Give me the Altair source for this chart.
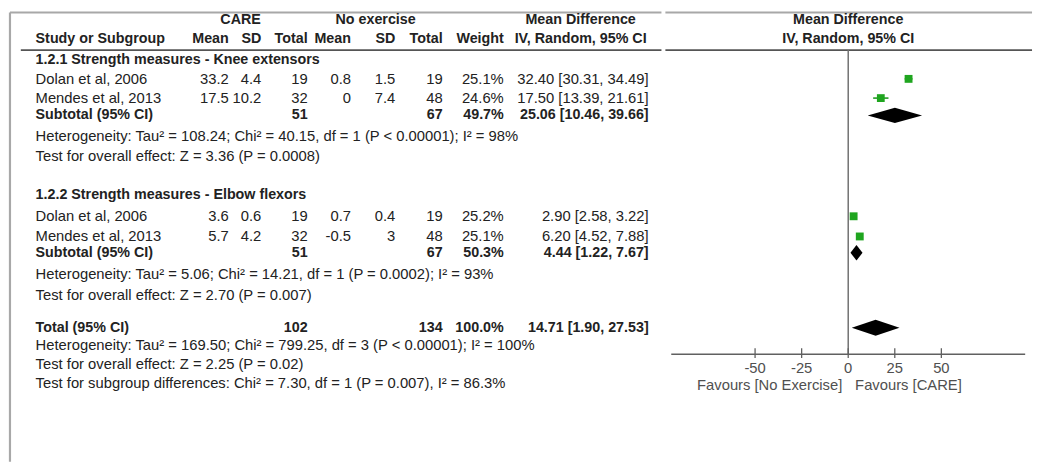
import altair as alt
import pandas as pd

# ---------------- data ----------------
groups = ["1.2.1 Strength measures - Knee extensors",
          "1.2.2 Strength measures - Elbow flexors"]
studies = ["Dolan et al, 2006", "Mendes et al, 2013",
           "Dolan et al, 2006", "Mendes et al, 2013"]
study_group = [0, 0, 1, 1]
care_mean = [33.2, 17.5, 3.6, 5.7]
care_sd = [4.4, 10.2, 0.6, 4.2]
care_total = [19, 32, 19, 32]
noex_mean = [0.8, 0, 0.7, -0.5]
noex_sd = [1.5, 7.4, 0.4, 3]
noex_total = [19, 48, 19, 48]
weights = [25.1, 24.6, 25.2, 25.1]
md = [32.40, 17.50, 2.90, 6.20]
md_lo = [30.31, 13.39, 2.58, 4.52]
md_hi = [34.49, 21.61, 3.22, 7.88]

sub_care_total = [51, 51]
sub_noex_total = [67, 67]
sub_weight = [49.7, 50.3]
sub_md = [25.06, 4.44]
sub_lo = [10.46, 1.22]
sub_hi = [39.66, 7.67]
sub_het = ["Heterogeneity: Tau² = 108.24; Chi² = 40.15, df = 1 (P < 0.00001); I² = 98%",
           "Heterogeneity: Tau² = 5.06; Chi² = 14.21, df = 1 (P = 0.0002); I² = 93%"]
sub_test = ["Test for overall effect: Z = 3.36 (P = 0.0008)",
            "Test for overall effect: Z = 2.70 (P = 0.007)"]

total_care = 102
total_noex = 134
total_weight = 100.0
total_md, total_lo, total_hi = 14.71, 1.90, 27.53
total_notes = ["Heterogeneity: Tau² = 169.50; Chi² = 799.25, df = 3 (P < 0.00001); I² = 100%",
               "Test for overall effect: Z = 2.25 (P = 0.02)",
               "Test for subgroup differences: Chi² = 7.30, df = 1 (P = 0.007), I² = 86.3%"]

axis_ticks = [-50, -25, 0, 25, 50]
favours = ["Favours [No Exercise]", "Favours [CARE]"]

# ---------------- layout ----------------
FONT = "Liberation Sans"
FS = 15
FSB = 14.5
TXT = "#222222"
LEFT_W, RIGHT_W, H = 662, 372, 457
ROW_STEP = 19.5
ROW0_PX = 51  # panel px of row 0
Y_TOP = -ROW0_PX / ROW_STEP
Y_BOT = (H - ROW0_PX) / ROW_STEP
yscale = alt.Scale(domain=[Y_BOT, Y_TOP], nice=False, zero=False)
lx = alt.Scale(domain=[8, 8 + LEFT_W], nice=False, zero=False)
PX_PER_UNIT = 1.89
MD_L = -(848.5 - 670 + 7) / PX_PER_UNIT
MD_R = MD_L + RIGHT_W / PX_PER_UNIT
rx = alt.Scale(domain=[MD_L, MD_R], nice=False, zero=False)

HDR1, HDR2, HLINE = -2.15, -1.17, -0.6
AXIS_ROW, TICKLAB_ROW, FAV_ROW = 15.23, 15.95, 16.82
AXIS_HALF = 95
# vertical position (in row units) of each line of the table
ROWPOS = {
    "g0": -0.1, "s0": 0.9, "s1": 1.9, "sub0": 2.8, "het0": 3.9, "test0": 4.9,
    "g1": 6.95, "s2": 8.05, "s3": 9.1, "sub1": 9.95, "het1": 11.05, "test1": 12.15,
    "tot": 13.85, "n0": 14.75, "n1": 15.75, "n2": 16.75,
}
col = dict(label=35, c_mean=231, c_sd=264, c_tot=311, n_mean=355, n_sd=400,
           n_tot=448, weight=510, ci=657, ci_hdr=588, care_hdr=243, noex_hdr=380)


def fmt(v):
    return f"{v:g}"


def ci(m, l, h):
    return f"{m:.2f} [{l:.2f}, {h:.2f}]"


cells = []


def add(x, row, text, kind):
    cells.append(dict(x=x, row=row, text=text, kind=kind))


# headers
add(col["care_hdr"], HDR1, "CARE", "center_b")
add(col["noex_hdr"], HDR1, "No exercise", "center_b")
add(col["ci_hdr"], HDR1, "Mean Difference", "center_b")
add(col["label"], HDR2, "Study or Subgroup", "left_b")
for k, t in [("c_mean", "Mean"), ("c_sd", "SD"), ("c_tot", "Total"),
             ("n_mean", "Mean"), ("n_sd", "SD"), ("n_tot", "Total"), ("weight", "Weight")]:
    add(col[k], HDR2, t, "right_b")
add(col["ci_hdr"], HDR2, "IV, Random, 95% CI", "center_b")

study_rows, sub_rows = [], []
si = 0
for g in range(2):
    add(col["label"], ROWPOS[f"g{g}"], groups[g], "left_b")
    idx = [i for i in range(len(studies)) if study_group[i] == g]
    for i in idx:
        r = ROWPOS[f"s{si}"]
        si += 1
        study_rows.append(r)
        add(col["label"], r, studies[i], "left")
        add(col["c_mean"], r, fmt(care_mean[i]), "right")
        add(col["c_sd"], r, fmt(care_sd[i]), "right")
        add(col["c_tot"], r, fmt(care_total[i]), "right")
        add(col["n_mean"], r, fmt(noex_mean[i]), "right")
        add(col["n_sd"], r, fmt(noex_sd[i]), "right")
        add(col["n_tot"], r, fmt(noex_total[i]), "right")
        add(col["weight"], r, f"{weights[i]:.1f}%", "right")
        add(col["ci"], r, ci(md[i], md_lo[i], md_hi[i]), "right")
    r = ROWPOS[f"sub{g}"]
    sub_rows.append(r)
    add(col["label"], r, "Subtotal (95% CI)", "left_b")
    add(col["c_tot"], r, fmt(sub_care_total[g]), "right_b")
    add(col["n_tot"], r, fmt(sub_noex_total[g]), "right_b")
    add(col["weight"], r, f"{sub_weight[g]:.1f}%", "right_b")
    add(col["ci"], r, ci(sub_md[g], sub_lo[g], sub_hi[g]), "right_b")
    add(col["label"], ROWPOS[f"het{g}"], sub_het[g], "left")
    add(col["label"], ROWPOS[f"test{g}"], sub_test[g], "left")

TOTAL_ROW = ROWPOS["tot"]
add(col["label"], TOTAL_ROW, "Total (95% CI)", "left_b")
add(col["c_tot"], TOTAL_ROW, fmt(total_care), "right_b")
add(col["n_tot"], TOTAL_ROW, fmt(total_noex), "right_b")
add(col["weight"], TOTAL_ROW, f"{total_weight:.1f}%", "right_b")
add(col["ci"], TOTAL_ROW, ci(total_md, total_lo, total_hi), "right_b")
for j, t in enumerate(total_notes):
    add(col["label"], ROWPOS[f"n{j}"], t, "left")

cells_df = pd.DataFrame(cells)

Y = alt.Y("row:Q", scale=yscale, axis=None)


def text_layer(kind, align, bold):
    return alt.Chart(cells_df[cells_df.kind == kind]).mark_text(
        align=align, baseline="middle", font=FONT, fontSize=FSB if bold else FS,
        fontWeight="bold" if bold else "normal", color=TXT
    ).encode(x=alt.X("x:Q", scale=lx, axis=None), y=Y, text="text:N")


frame_top_row = Y_TOP + 1.2 / ROW_STEP
left_frame = alt.Chart(pd.DataFrame([dict(x=9, x2=8 + LEFT_W, row=frame_top_row)])).mark_rule(
    color="#a8a8a8", strokeWidth=2.2).encode(
    x=alt.X("x:Q", scale=lx, axis=None), x2="x2:Q", y=Y)
left_vert = alt.Chart(pd.DataFrame([dict(x=9, row=frame_top_row, row2=Y_BOT)])).mark_rule(
    color="#a8a8a8", strokeWidth=2.2).encode(
    x=alt.X("x:Q", scale=lx, axis=None), y=Y, y2="row2:Q")
left_hline = alt.Chart(pd.DataFrame([dict(x=20, x2=8 + LEFT_W, row=HLINE)])).mark_rule(
    color="#555555", strokeWidth=1.8).encode(
    x=alt.X("x:Q", scale=lx, axis=None), x2="x2:Q", y=Y)

left = alt.layer(
    left_frame, left_vert, left_hline,
    text_layer("left", "left", False),
    text_layer("left_b", "left", True),
    text_layer("right", "right", False),
    text_layer("right_b", "right", True),
    text_layer("center_b", "center", True),
).properties(width=LEFT_W, height=H)

# ---------------- forest panel ----------------
XR = alt.X("x:Q", scale=rx, axis=None)
studies_df = pd.DataFrame(dict(row=study_rows, x=md, lo=md_lo, hi=md_hi, w=weights))

diam = []
for g in range(2):
    for x, dy in [(sub_lo[g], 0), (sub_md[g], 1), (sub_hi[g], 0)]:
        diam.append(dict(g=f"s{g}", x=x, top=sub_rows[g] - 0.4 * dy, bot=sub_rows[g] + 0.4 * dy))
for x, dy in [(total_lo, 0), (total_md, 1), (total_hi, 0)]:
    diam.append(dict(g="t", x=x, top=TOTAL_ROW - 0.42 * dy, bot=TOTAL_ROW + 0.42 * dy))
diam_df = pd.DataFrame(diam)

r_frame = alt.Chart(pd.DataFrame([dict(x=MD_L, x2=MD_R, row=frame_top_row)])).mark_rule(
    color="#a8a8a8", strokeWidth=2.2).encode(x=XR, x2="x2:Q", y=Y)
r_hline = alt.Chart(pd.DataFrame([dict(x=MD_L, x2=MD_R, row=HLINE)])).mark_rule(
    color="#555555", strokeWidth=1.8).encode(x=XR, x2="x2:Q", y=Y)
zero_line = alt.Chart(pd.DataFrame([dict(x=0, row=HLINE, row2=AXIS_ROW)])).mark_rule(
    color="#707070", strokeWidth=1.5).encode(x=XR, y=Y, y2="row2:Q")
axis_line = alt.Chart(pd.DataFrame([dict(x=-AXIS_HALF, x2=AXIS_HALF, row=AXIS_ROW)])).mark_rule(
    color="#606060", strokeWidth=1.5).encode(x=XR, x2="x2:Q", y=Y)
ticks_df = pd.DataFrame(dict(x=axis_ticks, row=[AXIS_ROW - 0.31] * 5, row2=[AXIS_ROW + 0.2] * 5,
                             lab=[str(t) for t in axis_ticks], lrow=[TICKLAB_ROW] * 5))
tick_rules = alt.Chart(ticks_df).mark_rule(color="#606060", strokeWidth=1.3).encode(
    x=XR, y=Y, y2="row2:Q")
tick_labels = alt.Chart(ticks_df).mark_text(
    font=FONT, fontSize=FS, color="#505050", baseline="middle", align="center").encode(
    x=XR, y=alt.Y("lrow:Q", scale=yscale, axis=None), text="lab:N")
fav_df = pd.DataFrame(dict(x=[0, 0], row=[FAV_ROW, FAV_ROW], t=favours))
fav_l = alt.Chart(fav_df.iloc[[0]]).mark_text(
    font=FONT, fontSize=FS, color="#505050", baseline="middle", align="right", dx=-6).encode(
    x=XR, y=Y, text="t:N")
fav_r = alt.Chart(fav_df.iloc[[1]]).mark_text(
    font=FONT, fontSize=FS, color="#505050", baseline="middle", align="left", dx=7).encode(
    x=XR, y=Y, text="t:N")
hdr_df = pd.DataFrame(dict(x=[0, 0], row=[HDR1, HDR2], t=["Mean Difference", "IV, Random, 95% CI"]))
r_hdr = alt.Chart(hdr_df).mark_text(
    font=FONT, fontSize=FSB, fontWeight="bold", color=TXT, baseline="middle", align="center").encode(
    x=XR, y=Y, text="t:N")
ci_rules = alt.Chart(studies_df).mark_rule(color="#1f9a1f", strokeWidth=1.6).encode(
    x=alt.X("lo:Q", scale=rx, axis=None), x2="hi:Q", y=Y)
squares = alt.Chart(studies_df).mark_square(color="#1fa51f", opacity=1, filled=True).encode(
    x=XR, y=Y, size=alt.Size("w:Q", scale=alt.Scale(domain=[0, 25.2], range=[0, 64]), legend=None))
diamonds = alt.Chart(diam_df).mark_area(color="black", orient="vertical", opacity=1).encode(
    x=XR, y=alt.Y("top:Q", scale=yscale, axis=None), y2="bot:Q", detail="g:N")

right = alt.layer(
    r_frame, r_hline, zero_line, axis_line, tick_rules, tick_labels, fav_l, fav_r, r_hdr,
    ci_rules, squares, diamonds
).properties(width=RIGHT_W, height=H)

chart = alt.hconcat(left, right, spacing=0).properties(
    padding=0, background="white"
).configure_view(stroke=None).configure_concat(spacing=0)

chart.save("out.html", embed_options={"renderer": "svg", "actions": False})
